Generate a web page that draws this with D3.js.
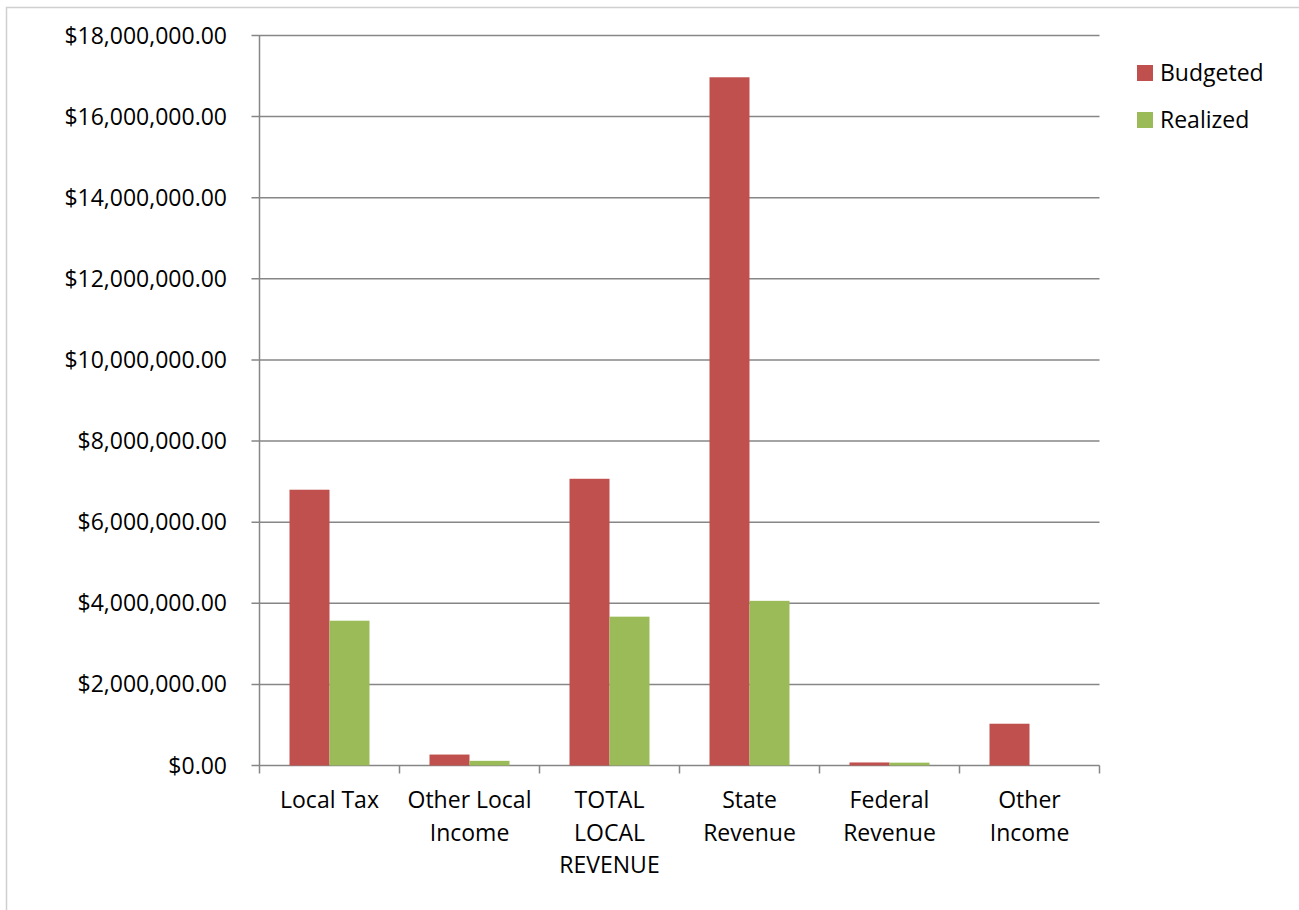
<!DOCTYPE html>
<html>
<head>
<meta charset="utf-8">
<script src="https://d3js.org/d3.v7.min.js"></script>
<style>
  body { margin: 0; background: #fff; }
  svg { display: block; font-family: "Open Sans", sans-serif; }
</style>
</head>
<body>
<div id="chart"></div>
<script>
// 数据
var categories = [['Local Tax'], ['Other Local', 'Income'], ['TOTAL', 'LOCAL', 'REVENUE'],
  ['State', 'Revenue'], ['Federal', 'Revenue'], ['Other', 'Income']];
var budgeted = [6800000, 270000, 7070000, 16970000, 75000, 1030000];
var realized = [3570000, 115000, 3670000, 4060000, 70000, 0];
var seriesNames = ['Budgeted', 'Realized'];
var seriesColors = ['#C0504D', '#9BBB59'];
var yTicks = d3.range(0, 18000001, 2000000);

var width = 1299, height = 910;
var margin = { left: 259.5, right: 1099.5, top: 35.5, bottom: 765.5 };
var fontSize = 23;

var svg = d3.select('#chart').append('svg')
  .attr('width', width)
  .attr('height', height);

// 外框
svg.append('rect')
  .attr('x', 6.5).attr('y', 7.5)
  .attr('width', 1400).attr('height', 1000)
  .attr('fill', 'none').attr('stroke', '#d0d0d0').attr('stroke-width', 1.5);

var x = d3.scaleBand()
  .domain(d3.range(categories.length))
  .range([margin.left, margin.right]);
// 140 带宽，组宽 80 => 两侧各 30
var xs = d3.scaleBand()
  .domain(d3.range(2))
  .range([30, x.bandwidth() - 30]);

var y = d3.scaleLinear()
  .domain([0, 18000000])
  .range([margin.bottom, margin.top]);

// 网格线
svg.append('g')
  .selectAll('line')
  .data(yTicks)
  .enter().append('line')
  .attr('x1', margin.left - 8).attr('x2', margin.right)
  .attr('y1', function(d) { return y(d); })
  .attr('y2', function(d) { return y(d); })
  .attr('stroke', '#868686').attr('stroke-width', 1.5);

// y 轴标签
var fmt = d3.format('$,.2f');
svg.append('g')
  .selectAll('text')
  .data(yTicks)
  .enter().append('text')
  .attr('x', 227)
  .attr('y', function(d) { return y(d); })
  .attr('dy', '0.35em')
  .attr('text-anchor', 'end')
  .attr('font-size', fontSize)
  .attr('fill', '#000')
  .text(function(d) { return fmt(d); });

// 柱子
var data = categories.map(function(c, i) {
  return [budgeted[i], realized[i]];
});
var groups = svg.selectAll('.grp')
  .data(data)
  .enter().append('g')
  .attr('class', 'grp')
  .attr('transform', function(d, i) { return 'translate(' + x(i) + ',0)'; });

groups.selectAll('rect')
  .data(function(d) { return d; })
  .enter().append('rect')
  .attr('x', function(d, j) { return xs(j); })
  .attr('width', xs.bandwidth())
  .attr('y', function(d) { return y(d); })
  .attr('height', function(d) { return y(0) - y(d); })
  .attr('fill', function(d, j) { return seriesColors[j]; });

// y 轴线
svg.append('line')
  .attr('x1', margin.left).attr('x2', margin.left)
  .attr('y1', margin.top).attr('y2', margin.bottom)
  .attr('stroke', '#868686').attr('stroke-width', 1.5);

// x 轴刻度
svg.append('g')
  .selectAll('line')
  .data(d3.range(categories.length + 1))
  .enter().append('line')
  .attr('x1', function(i) { return margin.left + i * x.step(); })
  .attr('x2', function(i) { return margin.left + i * x.step(); })
  .attr('y1', margin.bottom).attr('y2', margin.bottom + 8)
  .attr('stroke', '#868686').attr('stroke-width', 1.5);

// x 轴标签
var labels = svg.selectAll('.xlab')
  .data(categories)
  .enter().append('text')
  .attr('class', 'xlab')
  .attr('text-anchor', 'middle')
  .attr('font-size', fontSize)
  .attr('fill', '#000');
labels.selectAll('tspan')
  .data(function(d, i) { return d.map(function(s) { return { s: s, i: i }; }); })
  .enter().append('tspan')
  .attr('x', function(d) { return x(d.i) + x.bandwidth() / 2; })
  .attr('y', function(d, k) { return 808 + k * 32.5; })
  .text(function(d) { return d.s; });

// 图例
var legend = svg.selectAll('.leg')
  .data(seriesNames)
  .enter().append('g')
  .attr('class', 'leg')
  .attr('transform', function(d, i) { return 'translate(1137,' + (65 + i * 47) + ')'; });
legend.append('rect')
  .attr('width', 16).attr('height', 16)
  .attr('fill', function(d, i) { return seriesColors[i]; });
legend.append('text')
  .attr('x', 23).attr('y', 8).attr('dy', '0.35em')
  .attr('font-size', fontSize)
  .attr('fill', '#000')
  .text(function(d) { return d; });
</script>
</body>
</html>
